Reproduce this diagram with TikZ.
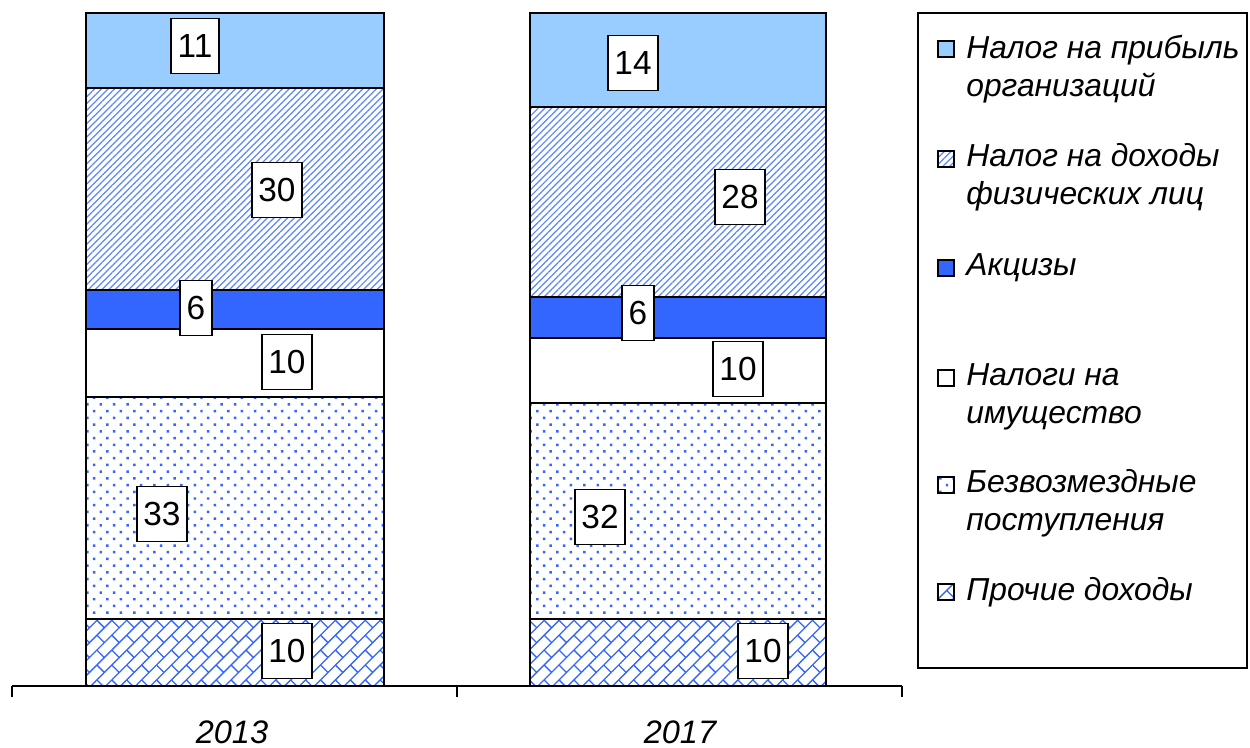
\documentclass[tikz,border=0pt]{standalone}
\usepackage{fontspec}
\setmainfont{Liberation Sans}
\usetikzlibrary{patterns,patterns.meta}

\definecolor{lightblue}{HTML}{99CCFF}
\definecolor{midblue}{HTML}{3366FF}

% diagonal bricks, as in the last segment
\tikzdeclarepattern{
  name=diagbricks,
  type=uncolored,
  bounding box={(-0.5pt,-0.5pt) and (12.5pt,12.5pt)},
  tile size={(12pt,12pt)},
  tile transformation={rotate=45},
  code={
    \draw[line width=0.75pt] (0,0) -- (12pt,0) (0,6pt) -- (12pt,6pt)
      (0,0) -- (0,6pt) (6pt,6pt) -- (6pt,12pt);
  }
}

\tikzset{
  profit/.style={fill=lightblue},
  income/.style={pattern={Lines[angle=45,distance=2.7pt,line width=0.7pt]},pattern color=midblue!80},
  excise/.style={fill=midblue},
  property/.style={fill=white},
  grants/.style={pattern={Dots[angle=45,distance=0.19cm,radius=0.035cm]},pattern color=midblue},
  other/.style={pattern=diagbricks,pattern color=midblue},
}

\begin{document}
\begin{tikzpicture}[x=0.02cm,y=-0.02cm,
    segment/.style={draw, line width=1.1pt},
    value/.style={draw, fill=white, line width=1.1pt, inner xsep=0.13cm, inner ysep=0pt,
      minimum height=1.1cm, font=\fontsize{19}{22}\selectfont},
    legmark/.style={draw, line width=0.9pt, minimum size=0.33cm, inner sep=0pt},
    legtext/.style={anchor=west, inner sep=0pt, align=left,
      font=\fontsize{18.1}{21.5}\selectfont\itshape},
    year/.style={inner sep=0pt, font=\fontsize{18.5}{20}\selectfont\itshape}]
  \useasboundingbox (0,0) rectangle (1250,747);

  % 2013
  \draw[segment,profit]   (86,13)  rectangle (384,88);
  \draw[segment,income]   (86,88)  rectangle (384,290);
  \draw[segment,excise]   (86,290) rectangle (384,329);
  \draw[segment,property] (86,329) rectangle (384,397);
  \draw[segment,grants]   (86,397) rectangle (384,619);
  \draw[segment,other]    (86,619) rectangle (384,686);

  % 2017
  \draw[segment,profit]   (530,13)  rectangle (826,107);
  \draw[segment,income]   (530,107) rectangle (826,297);
  \draw[segment,excise]   (530,297) rectangle (826,338);
  \draw[segment,property] (530,338) rectangle (826,403);
  \draw[segment,grants]   (530,403) rectangle (826,619);
  \draw[segment,other]    (530,619) rectangle (826,686);

  \node[value] (a1) at (195,46)  {11};
  \node[value] (a2) at (277,190) {30};
  \node[value] (a3) at (196,308) {6};
  \node[value] (a4) at (287,362) {10};
  \node[value] (a5) at (162,514) {33};
  \node[value] (a6) at (287,651) {10};

  \node[value] (b1) at (633,63)  {14};
  \node[value] (b2) at (740,197) {28};
  \node[value] (b3) at (638,313) {6};
  \node[value] (b4) at (738,369) {10};
  \node[value] (b5) at (600,517) {32};
  \node[value] (b6) at (763,651) {10};

  % axis
  \draw[line width=1pt] (12,686) -- (902,686);
  \draw[line width=1pt] (12,686) -- (12,697);
  \draw[line width=1pt] (457,686) -- (457,697);
  \draw[line width=1pt] (902,686) -- (902,697);
  \node[year] (y1) at (232,732) {2013};
  \node[year] (y2) at (680,732) {2017};

  % legend
  \draw[line width=1pt] (918,13) rectangle (1247,668);
  \node[legmark,profit]   (m1) at (946,49)  {};
  \node[legmark,income]   (m2) at (946,159) {};
  \node[legmark,excise]   (m3) at (946,268) {};
  \node[legmark,property] (m4) at (946,378) {};
  \node[legmark,grants]   (m5) at (946,485) {};
  \node[legmark,other]    (m6) at (946,592) {};
  \node[legtext] (t1) at (966,69)    {Налог на прибыль\\организаций};
  \node[legtext] (t2) at (966,177)   {Налог на доходы\\физических лиц};
  \node[legtext] (t3) at (966,268)   {Акцизы};
  \node[legtext] (t4) at (966,396.5) {Налоги на\\имущество};
  \node[legtext] (t5) at (966,503.5) {Безвозмездные\\поступления};
  \node[legtext] (t6) at (966,592)   {Прочие доходы};
\end{tikzpicture}
\end{document}
